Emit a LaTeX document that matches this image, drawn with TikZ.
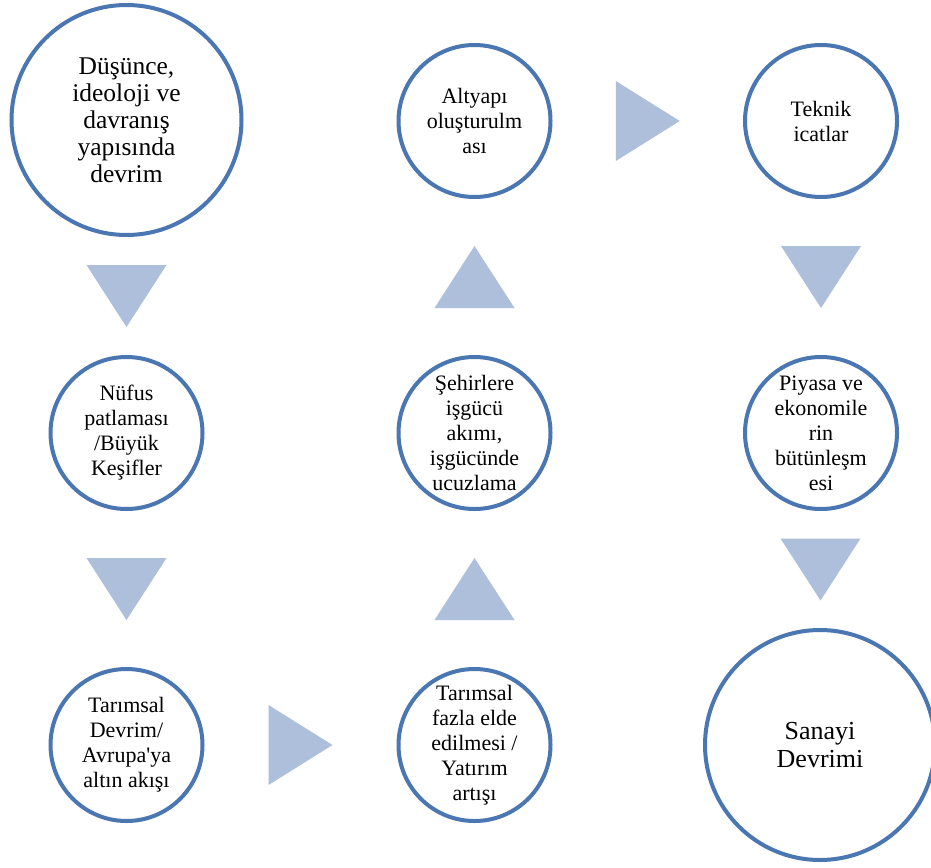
\documentclass[tikz,border=0pt]{standalone}
\usepackage{fontspec}
\setmainfont{Liberation Serif}
\usetikzlibrary{calc}
\definecolor{ringblue}{RGB}{74,118,178}
\definecolor{trifill}{RGB}{174,191,219}
\begin{document}
\begin{tikzpicture}[x=1pt,y=-1pt,
  ring/.style={circle,draw=ringblue,line width=4pt,fill=white,minimum size=152pt,inner sep=0pt},
  bigring/.style={ring,minimum size=230pt},
  txt/.style={align=center,font=\fontsize{22}{25}\selectfont,inner sep=0pt,text=black},
  bigtxt/.style={txt,font=\fontsize{25.5}{27}\selectfont},
  hugetxt/.style={txt,font=\fontsize{26}{28}\selectfont},
  tri/.style={fill=trifill},
  tridown/.pic={\fill[tri] (-40,-31) -- (40,-31) -- (0,31) -- cycle;},
  triup/.pic={\fill[tri] (-40,31) -- (40,31) -- (0,-31) -- cycle;},
  triright/.pic={\fill[tri] (-32,-40) -- (-32,40) -- (32,0) -- cycle;}
]
\fill[white] (0,0) rectangle (931,867);
\useasboundingbox (0,0) rectangle (931,867);

% circles
\node[bigring] (c1) at (126.5,120) {};
\node[ring] (c2) at (474.5,121) {};
\node[ring] (c3) at (821,121) {};
\node[ring] (c4) at (126.5,433) {};
\node[ring] (c5) at (474.5,433) {};
\node[ring] (c6) at (821,433) {};
\node[ring] (c7) at (126.5,745) {};
\node[ring] (c8) at (474.5,745) {};
\node[bigring] (c9) at (820,745) {};

% texts
\node[bigtxt] (t1) at (c1) {Düşünce,\\ideoloji ve\\davranış\\yapısında\\devrim};
\node[txt] (t2) at (c2) {Altyapı\\oluşturulm\\ası};
\node[txt] (t3) at (c3) {Teknik\\icatlar};
\node[txt] (t4) at (c4) {Nüfus\\patlaması\\/Büyük\\Keşifler};
\node[txt] (t5) at (c5) {Şehirlere\\işgücü\\akımı,\\işgücünde\\ucuzlama};
\node[txt] (t6) at (c6) {Piyasa ve\\ekonomile\\rin\\bütünleşm\\esi};
\node[txt] (t7) at (c7) {Tarımsal\\Devrim/\\Avrupa\textquotesingle ya\\altın akışı};
\node[txt] (t8) at (c8) {Tarımsal\\fazla elde\\edilmesi /\\Yatırım\\artışı};
\node[hugetxt] (t9) at (c9) {Sanayi\\Devrimi};

% triangles
\pic at ($(c1.south)!0.5!(c4.north)$) {tridown};
\pic at ($(c4.south)!0.5!(c7.north)$) {tridown};
\pic at ($(c7.east)!0.5!(c8.west)$) {triright};
\pic at ($(c8.north)!0.5!(c5.south)$) {triup};
\pic at ($(c5.north)!0.5!(c2.south)$) {triup};
\pic at ($(c2.east)!0.5!(c3.west)$) {triright};
\pic at ($(c3.south)!0.5!(c6.north)$) {tridown};
\pic at ($(c6.south)!0.5!(c9.north)$) {tridown};
\end{tikzpicture}
\end{document}
